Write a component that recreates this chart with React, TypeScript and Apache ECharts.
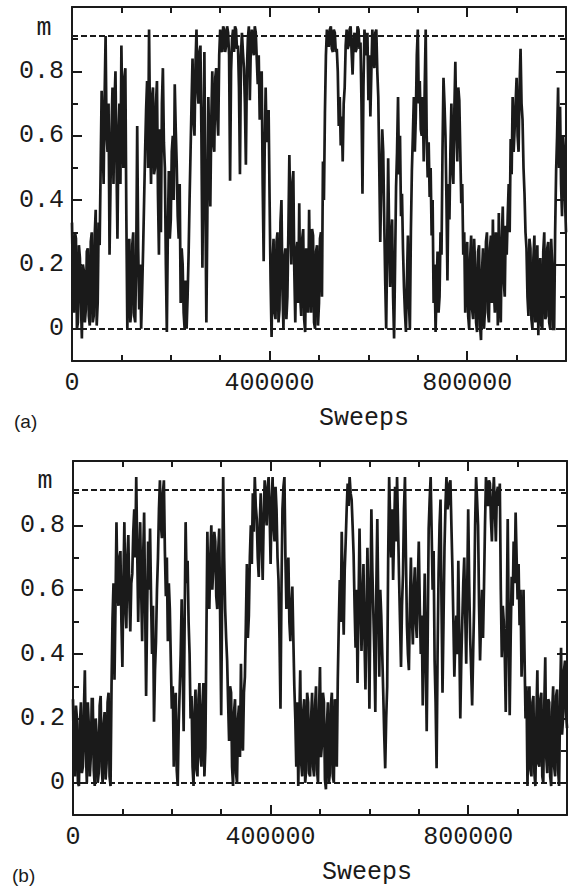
import React, { useEffect, useRef } from "react";
import * as echarts from "echarts";

// Magnetisation m vs Monte-Carlo sweeps, one value every SWEEP_STEP sweeps
const SWEEP_STEP = 2000;

const magnetA = [
  0.33, 0.12, 0.05, 0.30, 0.28, 0.00, 0.02, 0.26, 0.22, 0.08, -0.03, 0.20, 0.18, 0.02, 0.06, 0.24, 0.25, 0.04, 0.01, 0.27,
  0.30, 0.02, 0.04, 0.29, 0.37, 0.01, 0.08, 0.33, 0.26, 0.50, 0.74, 0.60, 0.45, 0.72, 0.91, 0.60, 0.55, 0.70, 0.23, 0.45,
  0.62, 0.75, 0.45, 0.70, 0.80, 0.52, 0.28, 0.60, 0.70, 0.45, 0.88, 0.65, 0.50, 0.78, 0.81, 0.35, 0.00, 0.18, 0.28, 0.02,
  0.05, 0.26, 0.30, 0.04, 0.02, 0.22, 0.63, 0.25, 0.06, 0.20, 0.00, 0.12, 0.25, 0.40, 0.55, 0.68, 0.77, 0.50, 0.93, 0.62,
  0.45, 0.72, 0.75, 0.48, 0.50, 0.70, 0.77, 0.42, 0.23, 0.62, 0.30, 0.70, 0.81, 0.58, 0.50, 0.20, -0.01, 0.30, 0.49, 0.28,
  0.34, 0.55, 0.60, 0.40, 0.76, 0.62, 0.51, 0.35, 0.28, 0.45, 0.08, 0.25, 0.20, 0.05, 0.00, 0.15, 0.00, 0.10, 0.23, 0.40,
  0.55, 0.70, 0.84, 0.65, 0.60, 0.82, 0.93, 0.75, 0.70, 0.86, 0.88, 0.60, 0.19, 0.55, 0.86, 0.40, 0.02, 0.35, 0.72, 0.55,
  0.38, 0.65, 0.80, 0.58, 0.55, 0.78, 0.81, 0.66, 0.60, 0.85, 0.93, 0.87, 0.86, 0.94, 0.93, 0.86, 0.88, 0.94, 0.92, 0.85,
  0.46, 0.80, 0.90, 0.93, 0.86, 0.94, 0.93, 0.87, 0.88, 0.75, 0.48, 0.85, 0.92, 0.86, 0.81, 0.70, 0.51, 0.80, 0.90, 0.94,
  0.71, 0.88, 0.93, 0.87, 0.85, 0.94, 0.92, 0.84, 0.76, 0.85, 0.65, 0.72, 0.80, 0.45, 0.21, 0.55, 0.75, 0.58, 0.62, 0.68,
  0.40, 0.15, -0.025, 0.20, 0.28, 0.05, 0.03, 0.27, 0.30, 0.02, 0.06, 0.33, 0.40, 0.12, 0.00, 0.22, 0.25, 0.03, 0.10, 0.30,
  0.54, 0.35, 0.20, 0.45, 0.49, 0.18, 0.02, 0.24, 0.27, 0.08, 0.39, 0.10, 0.04, 0.28, 0.31, 0.03, -0.01, 0.25, 0.22, 0.05,
  0.37, 0.15, 0.05, 0.31, 0.29, 0.02, 0.00, 0.24, 0.26, 0.01, 0.08, 0.28, 0.30, 0.10, 0.52, 0.40, 0.67, 0.85, 0.93, 0.88,
  0.88, 0.93, 0.94, 0.87, 0.86, 0.93, 0.92, 0.86, 0.87, 0.80, 0.63, 0.72, 0.57, 0.66, 0.52, 0.70, 0.75, 0.88, 0.93, 0.87,
  0.88, 0.93, 0.94, 0.86, 0.79, 0.90, 0.92, 0.86, 0.87, 0.94, 0.93, 0.87, 0.89, 0.70, 0.42, 0.75, 0.93, 0.88, 0.85, 0.92,
  0.71, 0.85, 0.66, 0.80, 0.93, 0.86, 0.81, 0.92, 0.93, 0.80, 0.72, 0.50, 0.27, 0.45, 0.62, 0.55, 0.34, 0.15, 0.00, 0.25,
  0.53, 0.30, 0.13, 0.28, 0.34, 0.10, -0.03, 0.20, 0.44, 0.55, 0.72, 0.48, 0.60, 0.35, 0.42, 0.25, 0.13, 0.05, -0.01, 0.15,
  0.29, 0.08, 0.00, 0.30, 0.49, 0.60, 0.72, 0.55, 0.66, 0.85, 0.93, 0.70, 0.77, 0.62, 0.60, 0.72, 0.52, 0.75, 0.93, 0.60,
  0.47, 0.58, 0.41, 0.50, 0.29, 0.40, 0.08, 0.20, -0.01, 0.12, 0.24, 0.05, 0.10, 0.30, 0.23, 0.55, 0.78, 0.70, 0.60, 0.40,
  0.15, 0.45, 0.34, 0.55, 0.70, 0.50, 0.45, 0.68, 0.83, 0.62, 0.52, 0.75, 0.71, 0.55, 0.39, 0.45, 0.23, 0.30, 0.05, 0.20,
  0.27, 0.04, 0.00, 0.22, 0.29, 0.06, 0.03, 0.28, 0.20, 0.02, -0.01, 0.24, 0.26, 0.01, -0.035, 0.18, 0.25, 0.00, 0.06, 0.27,
  0.30, 0.05, 0.02, 0.25, 0.29, 0.08, 0.34, 0.12, 0.05, 0.30, 0.25, 0.01, 0.36, 0.10, 0.02, 0.28, 0.38, 0.15, 0.10, 0.32,
  0.23, 0.35, 0.45, 0.30, 0.59, 0.48, 0.72, 0.55, 0.62, 0.70, 0.78, 0.60, 0.55, 0.75, 0.87, 0.70, 0.65, 0.50, 0.42, 0.30,
  0.25, 0.10, 0.04, 0.28, 0.25, 0.03, 0.00, 0.22, 0.29, 0.02, 0.05, 0.26, -0.02, 0.15, 0.22, 0.01, 0.00, 0.24, 0.30, 0.03,
  0.04, 0.25, 0.27, 0.02, 0.00, 0.28, 0.20, 0.00, 0.00, 0.30, 0.49, 0.60, 0.75, 0.50, 0.69, 0.45, 0.35, 0.60, 0.55, 0.40,
  0.30,
];

const magnetB = [
  0.26, 0.05, 0.02, 0.24, 0.20, 0.00, -0.01, 0.18, 0.25, 0.03, 0.05, 0.22, 0.35, 0.10, 0.00, 0.25, 0.18, 0.02, 0.08, 0.26,
  0.26, 0.04, -0.01, 0.20, 0.15, 0.00, 0.03, 0.24, 0.27, 0.05, 0.00, 0.18, 0.22, 0.01, 0.06, 0.25, 0.28, 0.02, -0.01, 0.30,
  0.51, 0.62, 0.32, 0.55, 0.81, 0.60, 0.55, 0.70, 0.72, 0.50, 0.36, 0.62, 0.81, 0.55, 0.48, 0.70, 0.77, 0.58, 0.47, 0.62,
  0.65, 0.78, 0.85, 0.70, 0.95, 0.72, 0.50, 0.68, 0.81, 0.60, 0.44, 0.70, 0.84, 0.55, 0.27, 0.52, 0.75, 0.60, 0.79, 0.58,
  0.40, 0.55, 0.19, 0.35, 0.44, 0.60, 0.70, 0.85, 0.94, 0.80, 0.76, 0.90, 0.94, 0.72, 0.58, 0.70, 0.44, 0.62, 0.54, 0.38,
  0.23, 0.30, 0.05, 0.22, 0.28, 0.04, -0.01, 0.18, 0.29, 0.40, 0.57, 0.35, 0.16, 0.50, 0.81, 0.62, 0.69, 0.50, 0.40, 0.20,
  0.27, 0.05, -0.01, 0.22, 0.29, 0.04, 0.02, 0.26, 0.31, 0.08, 0.05, 0.24, 0.31, 0.02, 0.11, 0.45, 0.78, 0.60, 0.54, 0.70,
  0.80, 0.60, 0.67, 0.78, 0.75, 0.58, 0.54, 0.72, 0.79, 0.50, 0.21, 0.60, 0.95, 0.70, 0.54, 0.45, 0.38, 0.25, 0.13, 0.30,
  0.28, 0.05, -0.01, 0.22, 0.26, 0.03, 0.00, 0.20, 0.24, 0.08, 0.37, 0.15, 0.10, 0.28, 0.33, 0.50, 0.68, 0.45, 0.52, 0.70,
  0.80, 0.68, 0.90, 0.78, 0.95, 0.86, 0.82, 0.70, 0.64, 0.80, 0.90, 0.75, 0.63, 0.82, 0.94, 0.85, 0.80, 0.92, 0.95, 0.84,
  0.68, 0.86, 0.95, 0.80, 0.75, 0.92, 0.85, 0.70, 0.63, 0.45, 0.23, 0.60, 0.85, 0.92, 0.95, 0.70, 0.54, 0.66, 0.70, 0.50,
  0.44, 0.55, 0.61, 0.45, 0.30, 0.20, 0.05, 0.25, -0.01, 0.18, 0.35, 0.06, 0.02, 0.22, 0.26, 0.00, 0.04, 0.28, 0.25, 0.03,
  0.02, 0.20, 0.28, 0.05, 0.02, 0.24, 0.30, 0.04, 0.00, 0.22, 0.36, 0.08, 0.12, 0.28, 0.25, 0.01, -0.02, 0.18, 0.25, 0.00,
  0.03, 0.24, 0.28, 0.02, 0.00, 0.26, 0.20, 0.05, 0.32, 0.49, 0.63, 0.50, 0.78, 0.60, 0.46, 0.66, 0.75, 0.85, 0.93, 0.86,
  0.95, 0.90, 0.88, 0.80, 0.71, 0.55, 0.42, 0.60, 0.31, 0.55, 0.79, 0.58, 0.41, 0.55, 0.68, 0.45, 0.29, 0.50, 0.73, 0.55,
  0.23, 0.55, 0.85, 0.66, 0.53, 0.40, 0.22, 0.60, 0.82, 0.55, 0.33, 0.60, 0.52, 0.40, 0.28, 0.15, 0.045, 0.20, 0.30, 0.70,
  0.95, 0.82, 0.70, 0.85, 0.63, 0.78, 0.92, 0.75, 0.95, 0.80, 0.64, 0.50, 0.36, 0.55, 0.65, 0.85, 0.95, 0.70, 0.49, 0.40,
  0.35, 0.55, 0.70, 0.52, 0.43, 0.60, 0.67, 0.50, 0.45, 0.62, 0.75, 0.55, 0.40, 0.52, 0.24, 0.45, 0.65, 0.40, 0.16, 0.45,
  0.79, 0.88, 0.95, 0.78, 0.60, 0.72, 0.38, 0.25, 0.045, 0.40, 0.65, 0.80, 0.88, 0.55, 0.28, 0.50, 0.73, 0.86, 0.95, 0.85,
  0.87, 0.93, 0.94, 0.80, 0.67, 0.50, 0.33, 0.45, 0.52, 0.40, 0.69, 0.45, 0.20, 0.38, 0.50, 0.62, 0.70, 0.52, 0.37, 0.60,
  0.85, 0.62, 0.45, 0.35, 0.24, 0.40, 0.55, 0.80, 0.95, 0.88, 0.80, 0.55, 0.38, 0.50, 0.60, 0.45, 0.61, 0.80, 0.95, 0.88,
  0.86, 0.94, 0.93, 0.82, 0.75, 0.88, 0.95, 0.85, 0.75, 0.90, 0.92, 0.86, 0.93, 0.60, 0.39, 0.55, 0.50, 0.40, 0.22, 0.50,
  0.82, 0.50, 0.21, 0.45, 0.64, 0.55, 0.75, 0.62, 0.84, 0.70, 0.57, 0.68, 0.49, 0.60, 0.33, 0.45, 0.60, 0.40, 0.20, 0.30,
  -0.01, 0.22, 0.30, 0.04, 0.02, 0.25, 0.27, 0.03, -0.01, 0.20, 0.35, 0.06, 0.05, 0.26, 0.28, 0.02, 0.00, 0.24, 0.39, 0.08,
  0.03, 0.26, 0.25, 0.02, -0.01, 0.22, 0.30, 0.05, 0.02, 0.27, 0.29, 0.04, -0.01, 0.25, 0.42, 0.15, 0.20, 0.35, 0.38, 0.22,
  0.17,
];

const X_MIN = 0;
const X_MAX = 1000000;
const Y_MIN = -0.1;
const Y_MAX = 1.0;
const X_LABELS = [0, 400000, 800000];
const X_MAJOR = [0, 400000, 800000];
const X_MINOR = [100000, 200000, 300000, 500000, 600000, 700000, 900000];
const Y_LABELS = [0, 0.2, 0.4, 0.6, 0.8];
const Y_MINOR = [0.1, 0.3, 0.5, 0.7, 0.9];
const REF_LINES = [0, 0.91];
const PANEL_TAGS = ["(a)", "(b)"];
const X_TITLE = "Sweeps";
const Y_TITLE = "m";

const INK = "#1a1a1a";
const MONO = '"Liberation Mono", "DejaVu Sans Mono", monospace';
const SANS = '"Liberation Sans", Arial, sans-serif';

const GRIDS = [
  { left: 72, top: 7, width: 494, height: 354 },
  { left: 73, top: 461, width: 494, height: 354 },
];
const MAJOR_LEN = 10;
const MINOR_LEN = 6;

const AXIS_LINE = { show: true, onZero: false, lineStyle: { color: INK, width: 2 } };

function xAxesFor(g: number) {
  const base = {
    type: "value",
    gridIndex: g,
    min: X_MIN,
    max: X_MAX,
    axisLine: AXIS_LINE,
    axisTick: { show: false },
    splitLine: { show: false },
  };
  return [
    {
      ...base,
      position: "bottom",
      axisLabel: {
        show: true,
        customValues: X_LABELS,
        margin: 10,
        formatter: (v: number) => String(Math.round(v)),
        fontFamily: MONO,
        fontSize: 25,
        color: INK,
      },
    },
    { ...base, position: "top", axisLabel: { show: false } },
  ];
}

function yAxesFor(g: number) {
  const base = {
    type: "value",
    gridIndex: g,
    min: Y_MIN,
    max: Y_MAX,
    axisLine: AXIS_LINE,
    axisTick: { show: false },
    splitLine: { show: false },
  };
  return [
    {
      ...base,
      position: "left",
      axisLabel: {
        show: true,
        customValues: Y_LABELS,
        margin: 8,
        formatter: (v: number) => String(Math.round(v * 10) / 10),
        fontFamily: MONO,
        fontSize: 25,
        color: INK,
      },
    },
    { ...base, position: "right", axisLabel: { show: false } },
  ];
}

// inward frame ticks as short mark lines in data coordinates
function tickLines(g: number) {
  const perPxY = (Y_MAX - Y_MIN) / GRIDS[g].height;
  const perPxX = (X_MAX - X_MIN) / GRIDS[g].width;
  const solid = { type: "solid", color: INK, width: 2 };
  const out: any[] = [];
  const vt = (v: number, len: number) => {
    out.push([{ coord: [v, Y_MIN], lineStyle: solid }, { coord: [v, Y_MIN + len * perPxY] }]);
    out.push([{ coord: [v, Y_MAX], lineStyle: solid }, { coord: [v, Y_MAX - len * perPxY] }]);
  };
  const ht = (v: number, len: number) => {
    out.push([{ coord: [X_MIN, v], lineStyle: solid }, { coord: [X_MIN + len * perPxX, v] }]);
    out.push([{ coord: [X_MAX, v], lineStyle: solid }, { coord: [X_MAX - len * perPxX, v] }]);
  };
  X_MAJOR.forEach((v) => vt(v, MAJOR_LEN));
  X_MINOR.forEach((v) => vt(v, MINOR_LEN));
  Y_LABELS.forEach((v) => ht(v, MAJOR_LEN));
  Y_MINOR.forEach((v) => ht(v, MINOR_LEN));
  return out;
}

function seriesFor(g: number, values: number[]) {
  return {
    type: "line",
    xAxisIndex: g * 2,
    yAxisIndex: g * 2,
    data: values.map((v, i) => [i * SWEEP_STEP, v]),
    showSymbol: false,
    symbol: "none",
    lineStyle: { color: INK, width: 2.7, join: "miter", miterLimit: 3 },
    markLine: {
      silent: true,
      symbol: ["none", "none"],
      label: { show: false },
      lineStyle: { type: [6, 3], color: INK, width: 1.8 },
      data: [...REF_LINES.map((v) => ({ yAxis: v })), ...tickLines(g)],
    },
  };
}

function text(str: string, x: number, y: number, font: string, align: string) {
  return {
    type: "text",
    x,
    y,
    style: {
      text: str,
      font,
      fill: INK,
      textAlign: align,
      align,
      textVerticalAlign: "middle",
      verticalAlign: "middle",
    },
  };
}

export default function App() {
  const ref = useRef<HTMLDivElement>(null);
  useEffect(() => {
    if (!ref.current) return;
    const chart = echarts.init(ref.current, undefined, { renderer: "svg" });
    chart.setOption({
      animation: false,
      backgroundColor: "#ffffff",
      grid: GRIDS.map((g) => ({ ...g, show: false, containLabel: false })),
      xAxis: [...xAxesFor(0), ...xAxesFor(1)],
      yAxis: [...yAxesFor(0), ...yAxesFor(1)],
      series: [seriesFor(0, magnetA), seriesFor(1, magnetB)],
      graphic: [
        text(Y_TITLE, 44, 28, `25px ${MONO}`, "center"),
        text(X_TITLE, 364, 418, `25px ${MONO}`, "center"),
        text(PANEL_TAGS[0], 14, 421, `19px ${SANS}`, "left"),
        text(Y_TITLE, 45, 481, `25px ${MONO}`, "center"),
        text(X_TITLE, 367, 872, `25px ${MONO}`, "center"),
        text(PANEL_TAGS[1], 12, 875, `19px ${SANS}`, "left"),
      ],
    });
    return () => chart.dispose();
  }, []);
  return (
    <div
      ref={ref}
      style={{ position: "fixed", left: 0, top: 0, width: 574, height: 888, background: "#fff" }}
    />
  );
}
